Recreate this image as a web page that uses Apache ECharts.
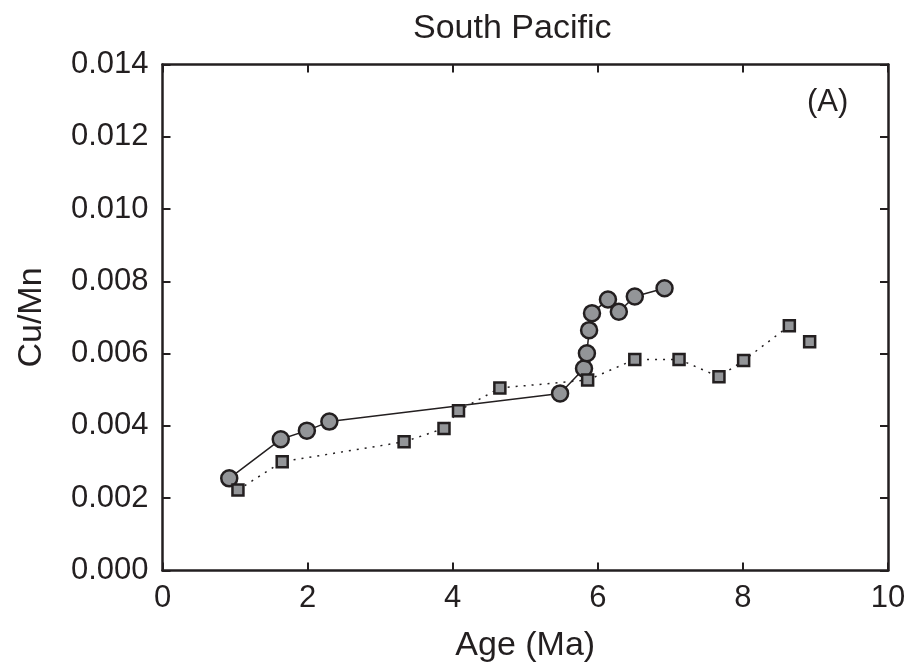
<!DOCTYPE html>
<html>
<head>
<meta charset="utf-8">
<script src="https://cdn.jsdelivr.net/npm/echarts@6/dist/echarts.min.js"></script>
<style>
  html, body { margin: 0; padding: 0; background: #fff; }
  #chart { width: 917px; height: 672px; }
</style>
</head>
<body>
<div id="chart"></div>
<script>
// circles, solid line
var circleAge = [0.92, 1.63, 1.99, 2.30, 5.48, 5.81, 5.85, 5.88, 5.92, 6.14, 6.29, 6.51, 6.92];
var circleCuMn = [0.00255, 0.00363, 0.00387, 0.00412, 0.00490, 0.00559, 0.00601, 0.00665, 0.00712, 0.00750, 0.00716, 0.00758, 0.00781];
// squares, dotted line
var squareAge = [1.04, 1.65, 3.33, 3.88, 4.08, 4.65, 5.86, 6.51, 7.12, 7.67, 8.01, 8.64];
var squareCuMn = [0.00223, 0.00301, 0.00356, 0.00393, 0.00442, 0.00505, 0.00527, 0.00584, 0.00584, 0.00536, 0.00581, 0.00677];
// last square, not joined
var loneAge = [8.92];
var loneCuMn = [0.00633];

var xTicks = [0, 2, 4, 6, 8, 10];
var yTicks = [0.000, 0.002, 0.004, 0.006, 0.008, 0.010, 0.012, 0.014];

var INK = '#231f20';
var FILL = '#939598';
var FONT = 'Liberation Sans, Arial, sans-serif';

function pairs(xs, ys) {
	var out = [];
	for (var i = 0; i < xs.length; i++) {
		out.push([xs[i], ys[i]]);
	}
	return out;
}

var axisLine = { show: true, onZero: false, lineStyle: { color: INK, width: 2.5 } };
var axisTick = { show: true, inside: true, length: 8, lineStyle: { color: INK, width: 2 } };

var chart = echarts.init(document.getElementById('chart'));
var option = {
	animation: false,
	textStyle: { fontFamily: FONT },
	title: {
		text: 'South Pacific',
		left: 408,
		top: 7,
		textStyle: { fontFamily: FONT, fontSize: 34, fontWeight: 'normal', color: INK }
	},
	graphic: [{
		type: 'text',
		left: 807,
		top: 87,
		style: { text: '(A)', font: '31px ' + FONT, fill: INK }
	}],
	grid: { left: 162.5, right: 29, top: 64.5, bottom: 101.5, containLabel: false },
	xAxis: [{
		type: 'value',
		min: xTicks[0],
		max: xTicks[xTicks.length - 1],
		interval: 2,
		position: 'bottom',
		name: 'Age (Ma)',
		nameLocation: 'middle',
		nameGap: 58,
		nameTextStyle: { fontSize: 34, color: INK, fontFamily: FONT },
		axisLine: axisLine,
		axisTick: axisTick,
		axisLabel: { fontSize: 31, color: INK, margin: 12, fontFamily: FONT },
		splitLine: { show: false }
	}, {
		type: 'value',
		min: xTicks[0],
		max: xTicks[xTicks.length - 1],
		interval: 2,
		position: 'top',
		axisLine: axisLine,
		axisTick: axisTick,
		axisLabel: { show: false },
		splitLine: { show: false }
	}],
	yAxis: [{
		type: 'value',
		min: yTicks[0],
		max: yTicks[yTicks.length - 1],
		interval: 0.002,
		position: 'left',
		name: 'Cu/Mn',
		nameLocation: 'middle',
		nameGap: 114,
		nameTextStyle: { fontSize: 34, color: INK, fontFamily: FONT },
		axisLine: axisLine,
		axisTick: axisTick,
		axisLabel: {
			fontSize: 31, color: INK, margin: 14, fontFamily: FONT,
			formatter: function (v) { return v.toFixed(3); }
		},
		splitLine: { show: false }
	}, {
		type: 'value',
		min: yTicks[0],
		max: yTicks[yTicks.length - 1],
		interval: 0.002,
		position: 'right',
		axisLine: axisLine,
		axisTick: axisTick,
		axisLabel: { show: false },
		splitLine: { show: false }
	}],
	series: [{
		name: 'circles',
		type: 'line',
		data: pairs(circleAge, circleCuMn),
		symbol: 'circle',
		symbolSize: 16,
		showAllSymbol: true,
		lineStyle: { color: INK, width: 1.5 },
		itemStyle: { color: FILL, borderColor: INK, borderWidth: 2.5 },
		z: 2
	}, {
		name: 'squares',
		type: 'line',
		data: pairs(squareAge, squareCuMn),
		symbol: 'rect',
		symbolSize: 11,
		showAllSymbol: true,
		lineStyle: { color: INK, width: 1.5, type: [2, 6] },
		itemStyle: { color: FILL, borderColor: INK, borderWidth: 2.5 },
		z: 3
	}, {
		name: 'lone',
		type: 'scatter',
		data: pairs(loneAge, loneCuMn),
		symbol: 'rect',
		symbolSize: 11,
		itemStyle: { color: FILL, borderColor: INK, borderWidth: 2.5, opacity: 1 },
		z: 3
	}]
};
chart.setOption(option);
</script>
</body>
</html>
